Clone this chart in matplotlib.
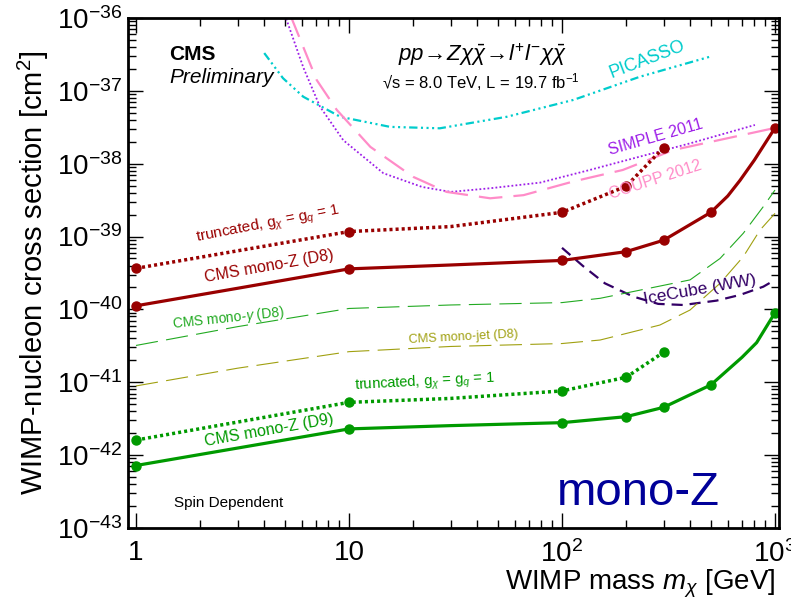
import matplotlib
matplotlib.use("Agg")
import matplotlib.pyplot as plt
from matplotlib.ticker import FixedLocator, FixedFormatter, LogLocator, NullFormatter

plt.rcParams['font.family'] = ['Liberation Sans', 'DejaVu Sans']
plt.rcParams['mathtext.fontset'] = 'custom'
plt.rcParams['mathtext.rm'] = 'Liberation Sans'
plt.rcParams['mathtext.it'] = 'Liberation Sans:italic'
plt.rcParams['mathtext.bf'] = 'Liberation Sans:bold'
plt.rcParams['lines.scale_dashes'] = False

# CMS mono-Z (D8), markers and curve
d8_mx = [1, 10, 100, 200, 300, 500, 1000]
d8_my = [1.12e-40, 3.6e-40, 4.7e-40, 6.2e-40, 8.9e-40, 2.15e-39, 3.1e-38]
d8_cx = [1, 3, 10, 30, 100, 200, 300, 500, 600, 685, 800, 1000]
d8_cy = [1.12e-40, 1.95e-40, 3.6e-40, 4.07e-40, 4.7e-40, 6.2e-40, 8.9e-40, 2.15e-39,
         3.6e-39, 5.9e-39, 1.12e-38, 3.1e-38]

# truncated D8
d8t_x = [1, 10, 30, 100, 200, 300]
d8t_y = [3.66e-40, 1.17e-39, 1.37e-39, 2.15e-39, 4.9e-39, 1.66e-38]
d8t_mx = [1, 10, 100, 200, 300]
d8t_my = [3.66e-40, 1.17e-39, 2.15e-39, 4.9e-39, 1.66e-38]

# CMS mono-Z (D9)
d9_mx = [1, 10, 100, 200, 300, 500, 1000]
d9_my = [7.2e-43, 2.29e-42, 2.79e-42, 3.37e-42, 4.53e-42, 9.2e-42, 9.0e-41]
d9_cx = [1, 10, 30, 100, 200, 300, 500, 700, 820, 1000]
d9_cy = [7.2e-43, 2.29e-42, 2.54e-42, 2.79e-42, 3.37e-42, 4.53e-42, 9.2e-42,
         2.2e-41, 3.5e-41, 9.0e-41]

# truncated D9
d9t_x = [1, 10, 30, 100, 200, 300]
d9t_y = [1.61e-42, 5.3e-42, 6.0e-42, 7.6e-42, 1.17e-41, 2.58e-41]
d9t_mx = [1, 10, 100, 200, 300]
d9t_my = [1.61e-42, 5.3e-42, 7.6e-42, 1.17e-41, 2.58e-41]

# CMS mono-photon (D8)
mgam_x = [1, 3, 10, 30, 100, 151, 399, 552, 710, 881, 1000]
mgam_y = [3.2e-41, 5.8e-41, 1.03e-40, 1.15e-40, 1.24e-40, 1.42e-40, 2.54e-40,
          5.0e-40, 1.11e-39, 2.57e-39, 4.35e-39]

# CMS mono-jet (D8)
mjet_x = [1, 3, 10, 30, 100, 151, 288, 399, 552, 710, 851, 1000]
mjet_y = [8.9e-42, 1.56e-41, 2.63e-41, 3.1e-41, 3.4e-41, 3.8e-41, 6.1e-41, 9.8e-41,
          2.28e-40, 5.3e-40, 1.23e-39, 2.08e-39]

# IceCube (WW)
ice_x = [100, 126, 159, 216, 283, 371, 532, 685, 881, 1000]
ice_y = [7.0e-40, 3.9e-40, 2.28e-40, 1.5e-40, 1.19e-40, 1.15e-40, 1.32e-40,
         1.58e-40, 2.05e-40, 2.54e-40]

# PICASSO
pic_x = [4.0, 4.9, 6.1, 9.1, 15.6, 26.7, 55, 113, 232, 495]
pic_y = [3.3e-37, 1.49e-37, 8.3e-38, 4.4e-38, 3.2e-38, 3.06e-38, 4.4e-38, 7.5e-38,
         1.56e-37, 2.94e-37]

# SIMPLE 2011
sim_x = [5.0, 6.1, 7.3, 9.4, 14.5, 22, 30, 46, 79, 135, 232, 399, 805]
sim_y = [1.1e-36, 2.1e-37, 6.1e-38, 2.1e-38, 7.4e-39, 4.8e-39, 4.1e-39, 4.6e-39,
         5.5e-39, 8.2e-39, 1.25e-38, 1.9e-38, 3.4e-38]

# COUPP 2012
cou_x = [5.3, 7.05, 8.75, 12.6, 20, 28.7, 46, 66, 113, 193, 333, 982]
cou_y = [1.1e-36, 1.41e-37, 5.5e-38, 1.7e-38, 6.6e-39, 4.1e-39, 3.35e-39, 3.7e-39,
         5.7e-39, 8.2e-39, 1.54e-38, 3.06e-38]

x_ticks = [1, 10, 100, 1000]
x_labels = ["1", "10", "$10^{2}$", "$10^{3}$"]
y_exps = [-43, -42, -41, -40, -39, -38, -37, -36]

red = "#990000"
green = "#009a00"

fig = plt.figure(figsize=(7.91, 6.01), dpi=100)
ax = fig.add_axes([0.1618, 0.1215, 0.823, 0.8486])
ax.set_xscale("log")
ax.set_yscale("log")
ax.set_xlim(0.917, 1044)
ax.set_ylim(1e-43, 1e-36)

# exclusion curves from direct detection
ax.plot(pic_x, pic_y, color="#00cccc", lw=1.6, dashes=(6, 2.5, 1.5, 2.5, 1.5, 2.5, 1.5, 2.5))
ax.plot(sim_x, sim_y, color="#9d1ee8", lw=1.3, dashes=(1.3, 1.6))
ax.plot(cou_x, cou_y, color="#ff8cc8", lw=1.6, dashes=(17, 8))
ax.plot(ice_x, ice_y, color="#330066", lw=1.6, dashes=(8, 5))
ax.plot(mgam_x, mgam_y, color="#22aa22", lw=0.8, dashes=(16, 6))
ax.plot(mjet_x, mjet_y, color="#a0a010", lw=0.8, dashes=(16, 6))

# CMS mono-Z
ax.plot(d8_cx, d8_cy, color=red, lw=2.3)
ax.plot(d8_mx, d8_my, "o", color=red, ms=6.5)
ax.plot(d8t_x, d8t_y, color=red, lw=2.5, dashes=(2.2, 2.2), dash_capstyle="butt")
ax.plot(d8t_mx, d8t_my, "o", color=red, ms=6.5)
ax.plot(d9_cx, d9_cy, color=green, lw=2.3)
ax.plot(d9_mx, d9_my, "o", color=green, ms=6.5)
ax.plot(d9t_x, d9t_y, color=green, lw=2.5, dashes=(2.2, 2.2), dash_capstyle="butt")
ax.plot(d9t_mx, d9t_my, "o", color=green, ms=6.5)

# axes, ticks
ax.xaxis.set_major_locator(FixedLocator(x_ticks))
ax.xaxis.set_major_formatter(FixedFormatter(x_labels))
ax.xaxis.set_minor_locator(LogLocator(base=10, subs=range(2, 10), numticks=20))
ax.xaxis.set_minor_formatter(NullFormatter())
ax.yaxis.set_major_locator(FixedLocator([10.0 ** e for e in y_exps]))
ax.yaxis.set_major_formatter(FixedFormatter(["$10^{%d}$" % e for e in y_exps]))
ax.yaxis.set_minor_locator(LogLocator(base=10, subs=range(2, 10), numticks=20))
ax.yaxis.set_minor_formatter(NullFormatter())
ax.tick_params(which="both", direction="in", top=True, right=True, width=1)
ax.tick_params(which="major", length=11, labelsize=20)
ax.tick_params(which="minor", length=5.5)
ax.tick_params(axis="x", which="major", pad=9)
ax.tick_params(axis="y", which="major", pad=4)
for s in ax.spines.values():
    s.set_linewidth(2)

ax.set_ylabel("WIMP-nucleon cross section [cm$^{2}$]", fontsize=21)
ax.set_xlabel("WIMP mass $m_{\\chi}$ [GeV]", fontsize=20, ha="right", va="top")
ax.xaxis.set_label_coords(0.994, -0.078)

# text
T = ax.transAxes
ax.text(0.063, 0.929, "CMS", transform=T, fontsize=15, fontweight="bold", va="center")
ax.text(0.063, 0.884, "Preliminary", transform=T, fontsize=15, style="italic", va="center")
ax.text(0.544, 0.927, r"$pp\!\rightarrow\!Z\chi\bar{\chi}\!\rightarrow\!l^{+}l^{-}\chi\bar{\chi}$",
        transform=T, fontsize=16, ha="center", va="center")
ax.text(0.542, 0.875, "√s = 8.0 TeV, L = 19.7 fb$^{-1}$", transform=T, fontsize=12,
        ha="center", va="center")

kw = dict(transform=T, ha="center", va="center", rotation_mode="anchor")
ax.text(0.797, 0.918, "PICASSO", color="#00cccc", fontsize=13, rotation=21, **kw)
ax.text(0.810, 0.767, "SIMPLE 2011", color="#9d1ee8", fontsize=11.5, rotation=16, **kw)
ax.text(0.810, 0.682, "COUPP 2012", color="#ff8cc8", fontsize=11.5, rotation=18, **kw)
ax.text(0.215, 0.594, r"truncated, g$_{\chi}$ = g$_{q}$ = 1", color=red, fontsize=11,
        rotation=11, **kw)
ax.text(0.217, 0.514, "CMS mono-Z (D8)", color=red, fontsize=11.5, rotation=10, **kw)
ax.text(0.154, 0.412, r"CMS mono-$\gamma$ (D8)", color="#22aa22", fontsize=10, rotation=6, **kw)
ax.text(0.515, 0.375, "CMS mono-jet (D8)", color="#a0a010", fontsize=9.2, rotation=3, **kw)
ax.text(0.879, 0.467, "IceCube (WW)", color="#330066", fontsize=12.5, rotation=10, **kw)
ax.text(0.456, 0.284, r"truncated, g$_{\chi}$ = g$_{q}$ = 1", color=green, fontsize=10.5,
        rotation=3, **kw)
ax.text(0.217, 0.192, "CMS mono-Z (D9)", color=green, fontsize=11.5, rotation=10, **kw)
ax.text(0.154, 0.049, "Spin Dependent", transform=T, fontsize=11, ha="center", va="center")
ax.text(0.659, 0.045, "mono-Z", transform=T, fontsize=34, color="#000099", va="baseline")

fig.savefig("out.png", dpi=100)
